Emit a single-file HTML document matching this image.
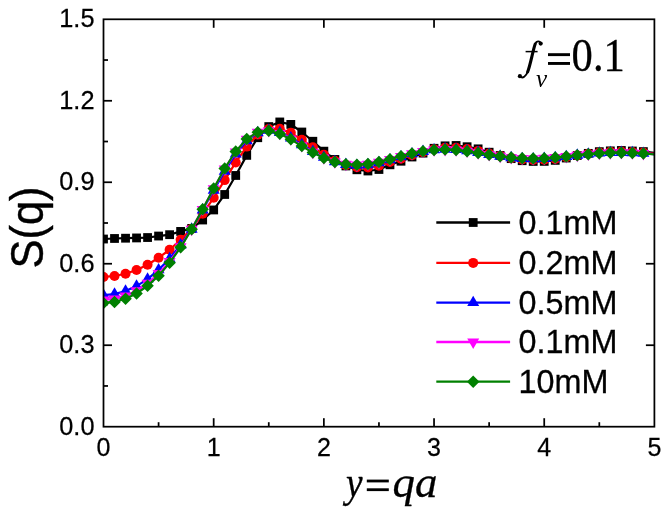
<!DOCTYPE html>
<html><head><meta charset="utf-8"><title>S(q)</title>
<style>
html,body{margin:0;padding:0;background:#fff;}
body{width:664px;height:508px;overflow:hidden;}
svg{display:block;will-change:transform;}
text{fill:#000;}
.tk{font-family:"Liberation Sans",sans-serif;font-size:26.4px;stroke:#000;stroke-width:0.25px;}
.lg{font-family:"Liberation Sans",sans-serif;font-size:33.2px;stroke:#000;stroke-width:0.3px;}
.yl{font-family:"Liberation Sans",sans-serif;font-size:46px;stroke:#000;stroke-width:0.4px;}
.ti{font-family:"Liberation Serif",serif;font-size:44px;}
.it{font-style:italic;}
</style></head>
<body>
<svg width="664" height="508" viewBox="0 0 664 508">
<defs><clipPath id="pc"><rect x="103.5" y="19.3" width="550.9" height="407.4"/></clipPath></defs>
<rect x="0" y="0" width="664" height="508" fill="#fff"/>
<line x1="158.59" y1="426.7" x2="158.59" y2="422.2" stroke="#000" stroke-width="1.75"/>
<line x1="213.68" y1="426.7" x2="213.68" y2="418.2" stroke="#000" stroke-width="1.75"/>
<line x1="213.68" y1="19.3" x2="213.68" y2="27.8" stroke="#000" stroke-width="1.75"/>
<line x1="268.77" y1="426.7" x2="268.77" y2="422.2" stroke="#000" stroke-width="1.75"/>
<line x1="323.86" y1="426.7" x2="323.86" y2="418.2" stroke="#000" stroke-width="1.75"/>
<line x1="323.86" y1="19.3" x2="323.86" y2="27.8" stroke="#000" stroke-width="1.75"/>
<line x1="378.95" y1="426.7" x2="378.95" y2="422.2" stroke="#000" stroke-width="1.75"/>
<line x1="434.04" y1="426.7" x2="434.04" y2="418.2" stroke="#000" stroke-width="1.75"/>
<line x1="434.04" y1="19.3" x2="434.04" y2="27.8" stroke="#000" stroke-width="1.75"/>
<line x1="489.13" y1="426.7" x2="489.13" y2="422.2" stroke="#000" stroke-width="1.75"/>
<line x1="544.22" y1="426.7" x2="544.22" y2="418.2" stroke="#000" stroke-width="1.75"/>
<line x1="544.22" y1="19.3" x2="544.22" y2="27.8" stroke="#000" stroke-width="1.75"/>
<line x1="599.31" y1="426.7" x2="599.31" y2="422.2" stroke="#000" stroke-width="1.75"/>
<line x1="103.5" y1="385.96" x2="108.0" y2="385.96" stroke="#000" stroke-width="1.75"/>
<line x1="103.5" y1="345.22" x2="112.0" y2="345.22" stroke="#000" stroke-width="1.75"/>
<line x1="654.4" y1="345.22" x2="645.9" y2="345.22" stroke="#000" stroke-width="1.75"/>
<line x1="103.5" y1="304.48" x2="108.0" y2="304.48" stroke="#000" stroke-width="1.75"/>
<line x1="103.5" y1="263.74" x2="112.0" y2="263.74" stroke="#000" stroke-width="1.75"/>
<line x1="654.4" y1="263.74" x2="645.9" y2="263.74" stroke="#000" stroke-width="1.75"/>
<line x1="103.5" y1="223.00" x2="108.0" y2="223.00" stroke="#000" stroke-width="1.75"/>
<line x1="103.5" y1="182.26" x2="112.0" y2="182.26" stroke="#000" stroke-width="1.75"/>
<line x1="654.4" y1="182.26" x2="645.9" y2="182.26" stroke="#000" stroke-width="1.75"/>
<line x1="103.5" y1="141.52" x2="108.0" y2="141.52" stroke="#000" stroke-width="1.75"/>
<line x1="103.5" y1="100.78" x2="112.0" y2="100.78" stroke="#000" stroke-width="1.75"/>
<line x1="654.4" y1="100.78" x2="645.9" y2="100.78" stroke="#000" stroke-width="1.75"/>
<line x1="103.5" y1="60.04" x2="108.0" y2="60.04" stroke="#000" stroke-width="1.75"/>
<g clip-path="url(#pc)">
<polyline fill="none" stroke="#000000" stroke-width="2.2" stroke-linejoin="round" points="103.50,239.02 114.52,238.48 125.54,238.21 136.55,237.94 147.57,237.53 158.59,236.04 169.61,234.68 180.63,231.42 191.64,228.43 202.66,220.01 213.68,209.96 224.70,194.48 235.72,175.47 246.73,155.37 257.75,137.72 268.77,126.58 279.79,121.96 290.81,124.41 301.82,132.01 312.84,141.25 323.86,151.16 334.88,159.45 345.90,165.96 356.91,169.77 367.93,170.99 378.95,169.49 389.97,164.80 400.99,161.22 412.00,157.00 423.02,153.14 434.04,148.28 445.06,145.85 456.08,145.48 467.09,146.73 478.11,148.85 489.13,152.21 500.15,155.50 511.17,158.64 522.18,160.71 533.20,161.43 544.22,161.37 555.24,160.37 566.26,158.02 577.27,155.53 588.29,153.36 599.31,151.66 610.33,150.87 621.35,150.47 632.36,151.01 643.38,151.59 654.40,152.92"/>
<rect x="99.10" y="234.62" width="8.80" height="8.80" fill="#000000"/>
<rect x="110.12" y="234.08" width="8.80" height="8.80" fill="#000000"/>
<rect x="121.14" y="233.81" width="8.80" height="8.80" fill="#000000"/>
<rect x="132.15" y="233.54" width="8.80" height="8.80" fill="#000000"/>
<rect x="143.17" y="233.13" width="8.80" height="8.80" fill="#000000"/>
<rect x="154.19" y="231.64" width="8.80" height="8.80" fill="#000000"/>
<rect x="165.21" y="230.28" width="8.80" height="8.80" fill="#000000"/>
<rect x="176.23" y="227.02" width="8.80" height="8.80" fill="#000000"/>
<rect x="187.24" y="224.03" width="8.80" height="8.80" fill="#000000"/>
<rect x="198.26" y="215.61" width="8.80" height="8.80" fill="#000000"/>
<rect x="209.28" y="205.56" width="8.80" height="8.80" fill="#000000"/>
<rect x="220.30" y="190.08" width="8.80" height="8.80" fill="#000000"/>
<rect x="231.32" y="171.07" width="8.80" height="8.80" fill="#000000"/>
<rect x="242.33" y="150.97" width="8.80" height="8.80" fill="#000000"/>
<rect x="253.35" y="133.32" width="8.80" height="8.80" fill="#000000"/>
<rect x="264.37" y="122.18" width="8.80" height="8.80" fill="#000000"/>
<rect x="275.39" y="117.56" width="8.80" height="8.80" fill="#000000"/>
<rect x="286.41" y="120.01" width="8.80" height="8.80" fill="#000000"/>
<rect x="297.42" y="127.61" width="8.80" height="8.80" fill="#000000"/>
<rect x="308.44" y="136.85" width="8.80" height="8.80" fill="#000000"/>
<rect x="319.46" y="146.76" width="8.80" height="8.80" fill="#000000"/>
<rect x="330.48" y="155.05" width="8.80" height="8.80" fill="#000000"/>
<rect x="341.50" y="161.56" width="8.80" height="8.80" fill="#000000"/>
<rect x="352.51" y="165.37" width="8.80" height="8.80" fill="#000000"/>
<rect x="363.53" y="166.59" width="8.80" height="8.80" fill="#000000"/>
<rect x="374.55" y="165.09" width="8.80" height="8.80" fill="#000000"/>
<rect x="385.57" y="160.40" width="8.80" height="8.80" fill="#000000"/>
<rect x="396.59" y="156.82" width="8.80" height="8.80" fill="#000000"/>
<rect x="407.60" y="152.60" width="8.80" height="8.80" fill="#000000"/>
<rect x="418.62" y="148.74" width="8.80" height="8.80" fill="#000000"/>
<rect x="429.64" y="143.88" width="8.80" height="8.80" fill="#000000"/>
<rect x="440.66" y="141.45" width="8.80" height="8.80" fill="#000000"/>
<rect x="451.68" y="141.08" width="8.80" height="8.80" fill="#000000"/>
<rect x="462.69" y="142.33" width="8.80" height="8.80" fill="#000000"/>
<rect x="473.71" y="144.45" width="8.80" height="8.80" fill="#000000"/>
<rect x="484.73" y="147.81" width="8.80" height="8.80" fill="#000000"/>
<rect x="495.75" y="151.10" width="8.80" height="8.80" fill="#000000"/>
<rect x="506.77" y="154.24" width="8.80" height="8.80" fill="#000000"/>
<rect x="517.78" y="156.31" width="8.80" height="8.80" fill="#000000"/>
<rect x="528.80" y="157.03" width="8.80" height="8.80" fill="#000000"/>
<rect x="539.82" y="156.97" width="8.80" height="8.80" fill="#000000"/>
<rect x="550.84" y="155.97" width="8.80" height="8.80" fill="#000000"/>
<rect x="561.86" y="153.62" width="8.80" height="8.80" fill="#000000"/>
<rect x="572.87" y="151.13" width="8.80" height="8.80" fill="#000000"/>
<rect x="583.89" y="148.96" width="8.80" height="8.80" fill="#000000"/>
<rect x="594.91" y="147.26" width="8.80" height="8.80" fill="#000000"/>
<rect x="605.93" y="146.47" width="8.80" height="8.80" fill="#000000"/>
<rect x="616.95" y="146.07" width="8.80" height="8.80" fill="#000000"/>
<rect x="627.96" y="146.61" width="8.80" height="8.80" fill="#000000"/>
<rect x="638.98" y="147.19" width="8.80" height="8.80" fill="#000000"/>
<polyline fill="none" stroke="#ff0000" stroke-width="2.2" stroke-linejoin="round" points="103.50,276.93 114.52,276.02 125.54,273.72 136.55,269.96 147.57,264.75 158.59,257.77 169.61,249.74 180.63,239.71 191.64,228.89 202.66,213.70 213.68,197.77 224.70,180.09 235.72,162.42 246.73,146.59 257.75,134.60 268.77,129.03 279.79,128.72 290.81,132.82 301.82,139.68 312.84,147.22 323.86,154.65 334.88,160.73 345.90,165.11 356.91,167.32 367.93,167.52 378.95,165.79 389.97,162.06 400.99,158.79 412.00,155.28 423.02,152.24 434.04,149.13 445.06,147.72 456.08,147.79 467.09,149.02 478.11,150.90 489.13,153.45 500.15,155.91 511.17,158.11 522.18,159.53 533.20,160.00 544.22,159.81 555.24,158.92 566.26,157.22 577.27,155.40 588.29,153.77 599.31,152.50 610.33,151.84 621.35,151.58 632.36,151.99 643.38,152.56 654.40,153.60"/>
<circle cx="103.50" cy="276.93" r="5.00" fill="#ff0000"/>
<circle cx="114.52" cy="276.02" r="5.00" fill="#ff0000"/>
<circle cx="125.54" cy="273.72" r="5.00" fill="#ff0000"/>
<circle cx="136.55" cy="269.96" r="5.00" fill="#ff0000"/>
<circle cx="147.57" cy="264.75" r="5.00" fill="#ff0000"/>
<circle cx="158.59" cy="257.77" r="5.00" fill="#ff0000"/>
<circle cx="169.61" cy="249.74" r="5.00" fill="#ff0000"/>
<circle cx="180.63" cy="239.71" r="5.00" fill="#ff0000"/>
<circle cx="191.64" cy="228.89" r="5.00" fill="#ff0000"/>
<circle cx="202.66" cy="213.70" r="5.00" fill="#ff0000"/>
<circle cx="213.68" cy="197.77" r="5.00" fill="#ff0000"/>
<circle cx="224.70" cy="180.09" r="5.00" fill="#ff0000"/>
<circle cx="235.72" cy="162.42" r="5.00" fill="#ff0000"/>
<circle cx="246.73" cy="146.59" r="5.00" fill="#ff0000"/>
<circle cx="257.75" cy="134.60" r="5.00" fill="#ff0000"/>
<circle cx="268.77" cy="129.03" r="5.00" fill="#ff0000"/>
<circle cx="279.79" cy="128.72" r="5.00" fill="#ff0000"/>
<circle cx="290.81" cy="132.82" r="5.00" fill="#ff0000"/>
<circle cx="301.82" cy="139.68" r="5.00" fill="#ff0000"/>
<circle cx="312.84" cy="147.22" r="5.00" fill="#ff0000"/>
<circle cx="323.86" cy="154.65" r="5.00" fill="#ff0000"/>
<circle cx="334.88" cy="160.73" r="5.00" fill="#ff0000"/>
<circle cx="345.90" cy="165.11" r="5.00" fill="#ff0000"/>
<circle cx="356.91" cy="167.32" r="5.00" fill="#ff0000"/>
<circle cx="367.93" cy="167.52" r="5.00" fill="#ff0000"/>
<circle cx="378.95" cy="165.79" r="5.00" fill="#ff0000"/>
<circle cx="389.97" cy="162.06" r="5.00" fill="#ff0000"/>
<circle cx="400.99" cy="158.79" r="5.00" fill="#ff0000"/>
<circle cx="412.00" cy="155.28" r="5.00" fill="#ff0000"/>
<circle cx="423.02" cy="152.24" r="5.00" fill="#ff0000"/>
<circle cx="434.04" cy="149.13" r="5.00" fill="#ff0000"/>
<circle cx="445.06" cy="147.72" r="5.00" fill="#ff0000"/>
<circle cx="456.08" cy="147.79" r="5.00" fill="#ff0000"/>
<circle cx="467.09" cy="149.02" r="5.00" fill="#ff0000"/>
<circle cx="478.11" cy="150.90" r="5.00" fill="#ff0000"/>
<circle cx="489.13" cy="153.45" r="5.00" fill="#ff0000"/>
<circle cx="500.15" cy="155.91" r="5.00" fill="#ff0000"/>
<circle cx="511.17" cy="158.11" r="5.00" fill="#ff0000"/>
<circle cx="522.18" cy="159.53" r="5.00" fill="#ff0000"/>
<circle cx="533.20" cy="160.00" r="5.00" fill="#ff0000"/>
<circle cx="544.22" cy="159.81" r="5.00" fill="#ff0000"/>
<circle cx="555.24" cy="158.92" r="5.00" fill="#ff0000"/>
<circle cx="566.26" cy="157.22" r="5.00" fill="#ff0000"/>
<circle cx="577.27" cy="155.40" r="5.00" fill="#ff0000"/>
<circle cx="588.29" cy="153.77" r="5.00" fill="#ff0000"/>
<circle cx="599.31" cy="152.50" r="5.00" fill="#ff0000"/>
<circle cx="610.33" cy="151.84" r="5.00" fill="#ff0000"/>
<circle cx="621.35" cy="151.58" r="5.00" fill="#ff0000"/>
<circle cx="632.36" cy="151.99" r="5.00" fill="#ff0000"/>
<circle cx="643.38" cy="152.56" r="5.00" fill="#ff0000"/>
<polyline fill="none" stroke="#0000ff" stroke-width="2.2" stroke-linejoin="round" points="103.50,295.11 114.52,294.05 125.54,291.08 136.55,286.12 147.57,279.09 158.59,269.81 169.61,258.67 180.63,244.96 191.64,229.18 202.66,209.94 213.68,190.33 224.70,171.36 235.72,154.03 246.73,140.71 257.75,132.72 268.77,130.37 279.79,132.59 290.81,137.93 301.82,144.72 312.84,151.50 323.86,157.38 334.88,161.75 345.90,164.42 356.91,165.33 367.93,164.69 378.95,162.75 389.97,159.83 400.99,156.80 412.00,153.88 423.02,151.51 434.04,149.81 445.06,149.20 456.08,149.62 467.09,150.82 478.11,152.51 489.13,154.44 500.15,156.23 511.17,157.69 522.18,158.58 533.20,158.84 544.22,158.54 555.24,157.76 566.26,156.58 577.27,155.29 588.29,154.10 599.31,153.16 610.33,152.62 621.35,152.47 632.36,152.76 643.38,153.33 654.40,154.15"/>
<path d="M97.50,298.57L109.50,298.57L103.50,288.18Z" fill="#0000ff"/>
<path d="M108.52,297.52L120.52,297.52L114.52,287.13Z" fill="#0000ff"/>
<path d="M119.54,294.55L131.54,294.55L125.54,284.16Z" fill="#0000ff"/>
<path d="M130.55,289.59L142.55,289.59L136.55,279.20Z" fill="#0000ff"/>
<path d="M141.57,282.56L153.57,282.56L147.57,272.16Z" fill="#0000ff"/>
<path d="M152.59,273.27L164.59,273.27L158.59,262.88Z" fill="#0000ff"/>
<path d="M163.61,262.13L175.61,262.13L169.61,251.74Z" fill="#0000ff"/>
<path d="M174.63,248.42L186.63,248.42L180.63,238.03Z" fill="#0000ff"/>
<path d="M185.64,232.64L197.64,232.64L191.64,222.25Z" fill="#0000ff"/>
<path d="M196.66,213.41L208.66,213.41L202.66,203.02Z" fill="#0000ff"/>
<path d="M207.68,193.79L219.68,193.79L213.68,183.40Z" fill="#0000ff"/>
<path d="M218.70,174.82L230.70,174.82L224.70,164.43Z" fill="#0000ff"/>
<path d="M229.72,157.49L241.72,157.49L235.72,147.10Z" fill="#0000ff"/>
<path d="M240.73,144.17L252.73,144.17L246.73,133.78Z" fill="#0000ff"/>
<path d="M251.75,136.19L263.75,136.19L257.75,125.79Z" fill="#0000ff"/>
<path d="M262.77,133.83L274.77,133.83L268.77,123.44Z" fill="#0000ff"/>
<path d="M273.79,136.05L285.79,136.05L279.79,125.66Z" fill="#0000ff"/>
<path d="M284.81,141.39L296.81,141.39L290.81,131.00Z" fill="#0000ff"/>
<path d="M295.82,148.19L307.82,148.19L301.82,137.80Z" fill="#0000ff"/>
<path d="M306.84,154.96L318.84,154.96L312.84,144.57Z" fill="#0000ff"/>
<path d="M317.86,160.85L329.86,160.85L323.86,150.46Z" fill="#0000ff"/>
<path d="M328.88,165.21L340.88,165.21L334.88,154.82Z" fill="#0000ff"/>
<path d="M339.90,167.88L351.90,167.88L345.90,157.49Z" fill="#0000ff"/>
<path d="M350.91,168.80L362.91,168.80L356.91,158.41Z" fill="#0000ff"/>
<path d="M361.93,168.15L373.93,168.15L367.93,157.76Z" fill="#0000ff"/>
<path d="M372.95,166.21L384.95,166.21L378.95,155.82Z" fill="#0000ff"/>
<path d="M383.97,163.30L395.97,163.30L389.97,152.90Z" fill="#0000ff"/>
<path d="M394.99,160.27L406.99,160.27L400.99,149.88Z" fill="#0000ff"/>
<path d="M406.00,157.35L418.00,157.35L412.00,146.95Z" fill="#0000ff"/>
<path d="M417.02,154.98L429.02,154.98L423.02,144.59Z" fill="#0000ff"/>
<path d="M428.04,153.27L440.04,153.27L434.04,142.88Z" fill="#0000ff"/>
<path d="M439.06,152.67L451.06,152.67L445.06,142.28Z" fill="#0000ff"/>
<path d="M450.08,153.08L462.08,153.08L456.08,142.69Z" fill="#0000ff"/>
<path d="M461.09,154.29L473.09,154.29L467.09,143.90Z" fill="#0000ff"/>
<path d="M472.11,155.97L484.11,155.97L478.11,145.58Z" fill="#0000ff"/>
<path d="M483.13,157.90L495.13,157.90L489.13,147.51Z" fill="#0000ff"/>
<path d="M494.15,159.70L506.15,159.70L500.15,149.31Z" fill="#0000ff"/>
<path d="M505.17,161.15L517.17,161.15L511.17,150.76Z" fill="#0000ff"/>
<path d="M516.18,162.05L528.18,162.05L522.18,151.65Z" fill="#0000ff"/>
<path d="M527.20,162.30L539.20,162.30L533.20,151.91Z" fill="#0000ff"/>
<path d="M538.22,162.01L550.22,162.01L544.22,151.61Z" fill="#0000ff"/>
<path d="M549.24,161.22L561.24,161.22L555.24,150.83Z" fill="#0000ff"/>
<path d="M560.26,160.04L572.26,160.04L566.26,149.65Z" fill="#0000ff"/>
<path d="M571.27,158.75L583.27,158.75L577.27,148.36Z" fill="#0000ff"/>
<path d="M582.29,157.56L594.29,157.56L588.29,147.17Z" fill="#0000ff"/>
<path d="M593.31,156.62L605.31,156.62L599.31,146.23Z" fill="#0000ff"/>
<path d="M604.33,156.08L616.33,156.08L610.33,145.69Z" fill="#0000ff"/>
<path d="M615.35,155.94L627.35,155.94L621.35,145.55Z" fill="#0000ff"/>
<path d="M626.36,156.23L638.36,156.23L632.36,145.83Z" fill="#0000ff"/>
<path d="M637.38,156.80L649.38,156.80L643.38,146.40Z" fill="#0000ff"/>
<polyline fill="none" stroke="#ff00ff" stroke-width="2.2" stroke-linejoin="round" points="103.50,299.93 114.52,298.91 125.54,295.86 136.55,290.69 147.57,283.28 158.59,273.45 169.61,261.40 180.63,246.59 191.64,229.24 202.66,209.38 213.68,188.75 224.70,168.94 235.72,151.88 246.73,139.33 257.75,132.30 268.77,130.66 279.79,133.39 290.81,138.93 301.82,145.67 312.84,152.26 323.86,157.86 334.88,161.93 345.90,164.30 356.91,164.98 367.93,164.18 378.95,162.21 389.97,159.44 400.99,156.46 412.00,153.64 423.02,151.39 434.04,149.93 445.06,149.46 456.08,149.93 467.09,151.14 478.11,152.79 489.13,154.61 500.15,156.29 511.17,157.61 522.18,158.41 533.20,158.64 544.22,158.32 555.24,157.55 566.26,156.47 577.27,155.27 588.29,154.15 599.31,153.28 610.33,152.76 621.35,152.63 632.36,152.90 643.38,153.47 654.40,154.25"/>
<path d="M97.50,296.47L109.50,296.47L103.50,306.86Z" fill="#ff00ff"/>
<path d="M108.52,295.44L120.52,295.44L114.52,305.84Z" fill="#ff00ff"/>
<path d="M119.54,292.39L131.54,292.39L125.54,302.78Z" fill="#ff00ff"/>
<path d="M130.55,287.22L142.55,287.22L136.55,297.61Z" fill="#ff00ff"/>
<path d="M141.57,279.81L153.57,279.81L147.57,290.20Z" fill="#ff00ff"/>
<path d="M152.59,269.99L164.59,269.99L158.59,280.38Z" fill="#ff00ff"/>
<path d="M163.61,257.94L175.61,257.94L169.61,268.33Z" fill="#ff00ff"/>
<path d="M174.63,243.13L186.63,243.13L180.63,253.52Z" fill="#ff00ff"/>
<path d="M185.64,225.78L197.64,225.78L191.64,236.17Z" fill="#ff00ff"/>
<path d="M196.66,205.92L208.66,205.92L202.66,216.31Z" fill="#ff00ff"/>
<path d="M207.68,185.28L219.68,185.28L213.68,195.68Z" fill="#ff00ff"/>
<path d="M218.70,165.47L230.70,165.47L224.70,175.86Z" fill="#ff00ff"/>
<path d="M229.72,148.41L241.72,148.41L235.72,158.81Z" fill="#ff00ff"/>
<path d="M240.73,135.86L252.73,135.86L246.73,146.25Z" fill="#ff00ff"/>
<path d="M251.75,128.83L263.75,128.83L257.75,139.22Z" fill="#ff00ff"/>
<path d="M262.77,127.20L274.77,127.20L268.77,137.59Z" fill="#ff00ff"/>
<path d="M273.79,129.92L285.79,129.92L279.79,140.31Z" fill="#ff00ff"/>
<path d="M284.81,135.46L296.81,135.46L290.81,145.86Z" fill="#ff00ff"/>
<path d="M295.82,142.20L307.82,142.20L301.82,152.60Z" fill="#ff00ff"/>
<path d="M306.84,148.80L318.84,148.80L312.84,159.19Z" fill="#ff00ff"/>
<path d="M317.86,154.39L329.86,154.39L323.86,164.78Z" fill="#ff00ff"/>
<path d="M328.88,158.46L340.88,158.46L334.88,168.85Z" fill="#ff00ff"/>
<path d="M339.90,160.83L351.90,160.83L345.90,171.23Z" fill="#ff00ff"/>
<path d="M350.91,161.52L362.91,161.52L356.91,171.91Z" fill="#ff00ff"/>
<path d="M361.93,160.72L373.93,160.72L367.93,171.11Z" fill="#ff00ff"/>
<path d="M372.95,158.74L384.95,158.74L378.95,169.13Z" fill="#ff00ff"/>
<path d="M383.97,155.97L395.97,155.97L389.97,166.37Z" fill="#ff00ff"/>
<path d="M394.99,152.99L406.99,152.99L400.99,163.38Z" fill="#ff00ff"/>
<path d="M406.00,150.17L418.00,150.17L412.00,160.56Z" fill="#ff00ff"/>
<path d="M417.02,147.92L429.02,147.92L423.02,158.32Z" fill="#ff00ff"/>
<path d="M428.04,146.46L440.04,146.46L434.04,156.85Z" fill="#ff00ff"/>
<path d="M439.06,146.00L451.06,146.00L445.06,156.39Z" fill="#ff00ff"/>
<path d="M450.08,146.47L462.08,146.47L456.08,156.86Z" fill="#ff00ff"/>
<path d="M461.09,147.67L473.09,147.67L467.09,158.06Z" fill="#ff00ff"/>
<path d="M472.11,149.33L484.11,149.33L478.11,159.72Z" fill="#ff00ff"/>
<path d="M483.13,151.15L495.13,151.15L489.13,161.54Z" fill="#ff00ff"/>
<path d="M494.15,152.83L506.15,152.83L500.15,163.22Z" fill="#ff00ff"/>
<path d="M505.17,154.15L517.17,154.15L511.17,164.54Z" fill="#ff00ff"/>
<path d="M516.18,154.95L528.18,154.95L522.18,165.34Z" fill="#ff00ff"/>
<path d="M527.20,155.17L539.20,155.17L533.20,165.56Z" fill="#ff00ff"/>
<path d="M538.22,154.86L550.22,154.86L544.22,165.25Z" fill="#ff00ff"/>
<path d="M549.24,154.09L561.24,154.09L555.24,164.48Z" fill="#ff00ff"/>
<path d="M560.26,153.00L572.26,153.00L566.26,163.39Z" fill="#ff00ff"/>
<path d="M571.27,151.81L583.27,151.81L577.27,162.20Z" fill="#ff00ff"/>
<path d="M582.29,150.69L594.29,150.69L588.29,161.08Z" fill="#ff00ff"/>
<path d="M593.31,149.81L605.31,149.81L599.31,160.20Z" fill="#ff00ff"/>
<path d="M604.33,149.29L616.33,149.29L610.33,159.68Z" fill="#ff00ff"/>
<path d="M615.35,149.16L627.35,149.16L621.35,159.56Z" fill="#ff00ff"/>
<path d="M626.36,149.43L638.36,149.43L632.36,159.83Z" fill="#ff00ff"/>
<path d="M637.38,150.00L649.38,150.00L643.38,160.40Z" fill="#ff00ff"/>
<polyline fill="none" stroke="#008000" stroke-width="2.2" stroke-linejoin="round" points="103.50,302.95 114.52,301.92 125.54,298.80 136.55,293.49 147.57,285.84 158.59,275.68 169.61,262.86 180.63,247.33 191.64,229.27 202.66,209.27 213.68,188.45 224.70,168.50 235.72,151.42 246.73,138.98 257.75,132.16 268.77,130.78 279.79,133.73 290.81,139.36 301.82,146.07 312.84,152.59 323.86,158.06 334.88,162.00 345.90,164.25 356.91,164.83 367.93,163.97 378.95,161.97 389.97,159.27 400.99,156.30 412.00,153.53 423.02,151.33 434.04,149.98 445.06,149.57 456.08,150.07 467.09,151.27 478.11,152.91 489.13,154.68 500.15,156.31 511.17,157.58 522.18,158.34 533.20,158.55 544.22,158.22 555.24,157.46 566.26,156.42 577.27,155.26 588.29,154.18 599.31,153.32 610.33,152.81 621.35,152.70 632.36,152.96 643.38,153.52 654.40,154.29"/>
<path d="M97.25,302.95L103.50,296.70L109.75,302.95L103.50,309.20Z" fill="#008000"/>
<path d="M108.27,301.92L114.52,295.67L120.77,301.92L114.52,308.17Z" fill="#008000"/>
<path d="M119.29,298.80L125.54,292.55L131.79,298.80L125.54,305.05Z" fill="#008000"/>
<path d="M130.30,293.49L136.55,287.24L142.80,293.49L136.55,299.74Z" fill="#008000"/>
<path d="M141.32,285.84L147.57,279.59L153.82,285.84L147.57,292.09Z" fill="#008000"/>
<path d="M152.34,275.68L158.59,269.43L164.84,275.68L158.59,281.93Z" fill="#008000"/>
<path d="M163.36,262.86L169.61,256.61L175.86,262.86L169.61,269.11Z" fill="#008000"/>
<path d="M174.38,247.33L180.63,241.08L186.88,247.33L180.63,253.58Z" fill="#008000"/>
<path d="M185.39,229.27L191.64,223.02L197.89,229.27L191.64,235.52Z" fill="#008000"/>
<path d="M196.41,209.27L202.66,203.02L208.91,209.27L202.66,215.52Z" fill="#008000"/>
<path d="M207.43,188.45L213.68,182.20L219.93,188.45L213.68,194.70Z" fill="#008000"/>
<path d="M218.45,168.50L224.70,162.25L230.95,168.50L224.70,174.75Z" fill="#008000"/>
<path d="M229.47,151.42L235.72,145.17L241.97,151.42L235.72,157.67Z" fill="#008000"/>
<path d="M240.48,138.98L246.73,132.73L252.98,138.98L246.73,145.23Z" fill="#008000"/>
<path d="M251.50,132.16L257.75,125.91L264.00,132.16L257.75,138.41Z" fill="#008000"/>
<path d="M262.52,130.78L268.77,124.53L275.02,130.78L268.77,137.03Z" fill="#008000"/>
<path d="M273.54,133.73L279.79,127.48L286.04,133.73L279.79,139.98Z" fill="#008000"/>
<path d="M284.56,139.36L290.81,133.11L297.06,139.36L290.81,145.61Z" fill="#008000"/>
<path d="M295.57,146.07L301.82,139.82L308.07,146.07L301.82,152.32Z" fill="#008000"/>
<path d="M306.59,152.59L312.84,146.34L319.09,152.59L312.84,158.84Z" fill="#008000"/>
<path d="M317.61,158.06L323.86,151.81L330.11,158.06L323.86,164.31Z" fill="#008000"/>
<path d="M328.63,162.00L334.88,155.75L341.13,162.00L334.88,168.25Z" fill="#008000"/>
<path d="M339.65,164.25L345.90,158.00L352.15,164.25L345.90,170.50Z" fill="#008000"/>
<path d="M350.66,164.83L356.91,158.58L363.16,164.83L356.91,171.08Z" fill="#008000"/>
<path d="M361.68,163.97L367.93,157.72L374.18,163.97L367.93,170.22Z" fill="#008000"/>
<path d="M372.70,161.97L378.95,155.72L385.20,161.97L378.95,168.22Z" fill="#008000"/>
<path d="M383.72,159.27L389.97,153.02L396.22,159.27L389.97,165.52Z" fill="#008000"/>
<path d="M394.74,156.30L400.99,150.05L407.24,156.30L400.99,162.55Z" fill="#008000"/>
<path d="M405.75,153.53L412.00,147.28L418.25,153.53L412.00,159.78Z" fill="#008000"/>
<path d="M416.77,151.33L423.02,145.08L429.27,151.33L423.02,157.58Z" fill="#008000"/>
<path d="M427.79,149.98L434.04,143.73L440.29,149.98L434.04,156.23Z" fill="#008000"/>
<path d="M438.81,149.57L445.06,143.32L451.31,149.57L445.06,155.82Z" fill="#008000"/>
<path d="M449.83,150.07L456.08,143.82L462.33,150.07L456.08,156.32Z" fill="#008000"/>
<path d="M460.84,151.27L467.09,145.02L473.34,151.27L467.09,157.52Z" fill="#008000"/>
<path d="M471.86,152.91L478.11,146.66L484.36,152.91L478.11,159.16Z" fill="#008000"/>
<path d="M482.88,154.68L489.13,148.43L495.38,154.68L489.13,160.93Z" fill="#008000"/>
<path d="M493.90,156.31L500.15,150.06L506.40,156.31L500.15,162.56Z" fill="#008000"/>
<path d="M504.92,157.58L511.17,151.33L517.42,157.58L511.17,163.83Z" fill="#008000"/>
<path d="M515.93,158.34L522.18,152.09L528.43,158.34L522.18,164.59Z" fill="#008000"/>
<path d="M526.95,158.55L533.20,152.30L539.45,158.55L533.20,164.80Z" fill="#008000"/>
<path d="M537.97,158.22L544.22,151.97L550.47,158.22L544.22,164.47Z" fill="#008000"/>
<path d="M548.99,157.46L555.24,151.21L561.49,157.46L555.24,163.71Z" fill="#008000"/>
<path d="M560.01,156.42L566.26,150.17L572.51,156.42L566.26,162.67Z" fill="#008000"/>
<path d="M571.02,155.26L577.27,149.01L583.52,155.26L577.27,161.51Z" fill="#008000"/>
<path d="M582.04,154.18L588.29,147.93L594.54,154.18L588.29,160.43Z" fill="#008000"/>
<path d="M593.06,153.32L599.31,147.07L605.56,153.32L599.31,159.57Z" fill="#008000"/>
<path d="M604.08,152.81L610.33,146.56L616.58,152.81L610.33,159.06Z" fill="#008000"/>
<path d="M615.10,152.70L621.35,146.45L627.60,152.70L621.35,158.95Z" fill="#008000"/>
<path d="M626.11,152.96L632.36,146.71L638.61,152.96L632.36,159.21Z" fill="#008000"/>
<path d="M637.13,153.52L643.38,147.27L649.63,153.52L643.38,159.77Z" fill="#008000"/>
</g>
<rect x="103.5" y="19.3" width="550.9" height="407.4" fill="none" stroke="#000" stroke-width="1.75"/>
<text transform="translate(103.50,456.0) scale(0.95,1)" text-anchor="middle" class="tk">0</text>
<text transform="translate(213.68,456.0) scale(0.95,1)" text-anchor="middle" class="tk">1</text>
<text transform="translate(323.86,456.0) scale(0.95,1)" text-anchor="middle" class="tk">2</text>
<text transform="translate(434.04,456.0) scale(0.95,1)" text-anchor="middle" class="tk">3</text>
<text transform="translate(544.22,456.0) scale(0.95,1)" text-anchor="middle" class="tk">4</text>
<text transform="translate(654.40,456.0) scale(0.95,1)" text-anchor="middle" class="tk">5</text>
<text transform="translate(94.5,434.50) scale(0.96,1)" text-anchor="end" class="tk">0.0</text>
<text transform="translate(94.5,353.02) scale(0.96,1)" text-anchor="end" class="tk">0.3</text>
<text transform="translate(94.5,271.54) scale(0.96,1)" text-anchor="end" class="tk">0.6</text>
<text transform="translate(94.5,190.06) scale(0.96,1)" text-anchor="end" class="tk">0.9</text>
<text transform="translate(94.5,108.58) scale(0.96,1)" text-anchor="end" class="tk">1.2</text>
<text transform="translate(94.5,27.10) scale(0.96,1)" text-anchor="end" class="tk">1.5</text>
<line x1="436.3" y1="222.5" x2="510.1" y2="222.5" stroke="#000000" stroke-width="2.3"/>
<rect x="468.80" y="218.10" width="8.80" height="8.80" fill="#000000"/>
<text transform="translate(518.6,233.70) scale(0.975,1)" class="lg">0.1mM</text>
<line x1="436.3" y1="262.9" x2="510.1" y2="262.9" stroke="#ff0000" stroke-width="2.3"/>
<circle cx="473.20" cy="262.90" r="5.00" fill="#ff0000"/>
<text transform="translate(518.6,274.10) scale(0.975,1)" class="lg">0.2mM</text>
<line x1="436.3" y1="302.6" x2="510.1" y2="302.6" stroke="#0000ff" stroke-width="2.3"/>
<path d="M467.20,306.06L479.20,306.06L473.20,295.67Z" fill="#0000ff"/>
<text transform="translate(518.6,313.80) scale(0.975,1)" class="lg">0.5mM</text>
<line x1="436.3" y1="342.0" x2="510.1" y2="342.0" stroke="#ff00ff" stroke-width="2.3"/>
<path d="M467.20,338.54L479.20,338.54L473.20,348.93Z" fill="#ff00ff"/>
<text transform="translate(518.6,353.20) scale(0.975,1)" class="lg">0.1mM</text>
<line x1="436.3" y1="381.7" x2="510.1" y2="381.7" stroke="#008000" stroke-width="2.3"/>
<path d="M466.95,381.70L473.20,375.45L479.45,381.70L473.20,387.95Z" fill="#008000"/>
<text transform="translate(518.6,392.90) scale(0.975,1)" class="lg">10mM</text>
<text class="yl" transform="translate(42.6,227.5) rotate(-90) scale(0.945,1)" text-anchor="middle">S(q)</text>
<g id="fglyph" fill="none" stroke="#000" stroke-linecap="round">
<path d="M540.6,43.7 C540.2,40.6 536.6,40.4 535.2,44" stroke-width="1.9"/>
<path d="M535.2,44 C533.2,49 530.2,66 527.6,72" stroke-width="3.1"/>
<path d="M527.6,72 C526,76.2 522.8,79 519.9,76.4" stroke-width="1.9"/>
<line x1="525.6" y1="51.6" x2="537.6" y2="51.6" stroke-width="1.5" stroke-linecap="butt"/>
</g>
<circle cx="540.7" cy="43.6" r="2.1" fill="#000"/><circle cx="519.9" cy="76.2" r="2.1" fill="#000"/>
<text class="ti it" x="536.0" y="86.6" style="font-size:25px">v</text>
<rect x="548" y="53.2" width="22" height="2.9" fill="#000"/><rect x="548" y="62" width="22" height="2.9" fill="#000"/>
<text class="ti" transform="translate(571.6,70.6) scale(0.93,1)" style="font-size:45.8px;stroke:#000;stroke-width:0.3px">0.1</text>
<text class="ti it" transform="translate(346.0,496.5) scale(0.85,1)" style="stroke:#000;stroke-width:0.3px">y</text>
<rect x="366.8" y="479.6" width="22" height="2.8" fill="#000"/><rect x="366.8" y="488.3" width="22" height="2.8" fill="#000"/>
<text class="ti it" transform="translate(392.6,496.5) scale(1.02,1)" style="stroke:#000;stroke-width:0.3px">qa</text>
</svg>
</body></html>
